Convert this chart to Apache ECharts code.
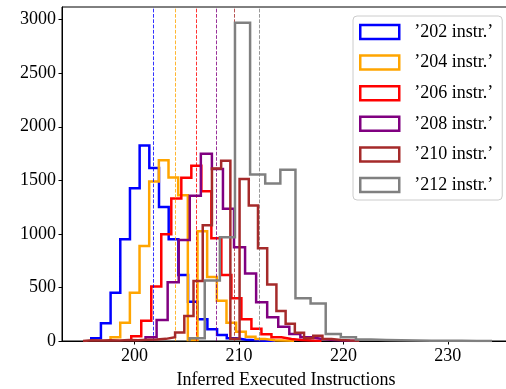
<!DOCTYPE html>
<html>
<head>
<meta charset="utf-8">
<script src="https://cdn.jsdelivr.net/npm/echarts@6/dist/echarts.min.js"></script>
<style>
  html, body { margin: 0; padding: 0; background: #fff; }
  #chart { width: 506px; height: 389px; }
</style>
</head>
<body>
<div id="chart"></div>
<script>
// ---- data ----
const seriesNames = ["’202 instr.’", "’204 instr.’", "’206 instr.’", "’208 instr.’", "’210 instr.’", "’212 instr.’"];
const seriesColors = ["#0000ff", "#ffa500", "#ff0000", "#800080", "#a52a2a", "#808080"];

// first bin edge and bin width for each histogram
const binStart = [195.85, 197.70, 199.68, 201.05, 195.06, 205.27];
const binWidth = [0.927, 0.925, 0.959, 1.059, 0.882, 1.448];

const counts202 = [25, 165, 451, 950, 1427, 1825, 1614, 1250, 950, 617, 367, 203, 109, 56, 25, 12, 6, 3, 2];
const counts204 = [35, 171, 451, 888, 1489, 1688, 1526, 1361, 10, 1024, 597, 375, 170, 87, 40, 18, 8, 4, 2];
const counts206 = [45, 188, 508, 997, 1330, 1523, 1636, 1398, 960, 617, 399, 203, 115, 63, 35, 19, 10, 5, 3];
const counts208 = [35, 196, 549, 944, 1355, 1748, 1605, 1234, 876, 630, 362, 221, 134, 65, 35, 19, 10, 5, 3];
const counts210 = [8, 4, 6, 5, 10, 8, 12, 15, 20, 35, 80, 234, 561, 1080, 1610, 1682, 20, 1512, 1265, 866, 528, 280, 162, 78, 25, 48, 18, 10, 5, 3];
const counts212 = [25, 564, 969, 2970, 1555, 1470, 1598, 400, 350, 65, 35, 15, 10, 6, 4, 3, 2, 2, 1, 1];
const allCounts = [counts202, counts204, counts206, counts208, counts210, counts212];

const means = [201.82, 203.90, 205.92, 207.83, 209.59, 211.92];

const xTicks = [200, 210, 220, 230];
const yTicks = [0, 500, 1000, 1500, 2000, 2500, 3000];
const xLabel = "Inferred Executed Instructions";

// ---- build step outlines ----
function stepPoints(start, width, vals) {
  const pts = [[start, 0]];
  for (let i = 0; i < vals.length; i++) {
    const a = start + i * width, b = start + (i + 1) * width;
    pts.push([a, vals[i]]);
    pts.push([b, vals[i]]);
  }
  pts.push([start + vals.length * width, 0]);
  return pts;
}

const FONT = "Liberation Serif";
const chart = echarts.init(document.getElementById('chart'), null, { renderer: 'canvas' });

const series = seriesNames.map((name, i) => ({
  name: name,
  type: 'line',
  data: stepPoints(binStart[i], binWidth[i], allCounts[i]),
  showSymbol: false,
  symbol: 'none',
  animation: false,
  z: 2 + i,
  lineStyle: { color: seriesColors[i], width: 2.5, join: 'miter', cap: 'butt' },
  itemStyle: { color: seriesColors[i] },
  markLine: {
    silent: true,
    symbol: 'none',
    animation: false,
    label: { show: false },
    emphasis: { disabled: true },
    lineStyle: { color: seriesColors[i], width: 1, type: [3.7, 1.6], opacity: 0.8 },
    data: [{ xAxis: means[i], lineStyle: { color: seriesColors[i] } }]
  }
}));

chart.setOption({
  animation: false,
  backgroundColor: '#ffffff',
  textStyle: { fontFamily: FONT },
  grid: {
    left: 62, top: 7, width: 448, height: 334,
    containLabel: false,
    outerBoundsMode: 'none',
    show: true, borderColor: '#000', borderWidth: 1, backgroundColor: 'transparent'
  },
  legend: {
    orient: 'vertical',
    left: 353, top: 16,
    padding: [7, 9, 6, 6],
    itemWidth: 39, itemHeight: 14, itemGap: 12.6,
    backgroundColor: 'rgba(255,255,255,0.85)',
    borderColor: '#cccccc', borderWidth: 1, borderRadius: 4,
    textStyle: { fontFamily: FONT, fontSize: 18, color: '#000', padding: [0, 0, 0, 10] },
    data: seriesNames.map((n, i) => ({
      name: n,
      icon: 'rect',
      itemStyle: { color: 'rgba(0,0,0,0)', borderColor: seriesColors[i], borderWidth: 2.5 }
    }))
  },
  xAxis: {
    type: 'value',
    min: 193.05, max: 235.95,
    name: xLabel,
    nameLocation: 'middle',
    nameGap: 30,
    nameTextStyle: { fontFamily: FONT, fontSize: 18, color: '#000' },
    axisLine: { show: true, onZero: false, lineStyle: { color: '#000', width: 1 } },
    axisTick: { show: true, inside: false, length: 3.5, lineStyle: { color: '#000' }, customValues: xTicks },
    axisLabel: { fontFamily: FONT, fontSize: 18, color: '#000', margin: 6, customValues: xTicks, formatter: v => String(v) },
    splitLine: { show: false }
  },
  yAxis: {
    type: 'value',
    min: 0, max: 3118,
    axisLine: { show: true, lineStyle: { color: '#000', width: 1 } },
    axisTick: { show: true, inside: false, length: 3.5, lineStyle: { color: '#000' }, customValues: yTicks },
    axisLabel: { fontFamily: FONT, fontSize: 18, color: '#000', margin: 6, customValues: yTicks, formatter: v => String(v) },
    splitLine: { show: false }
  },
  series: series
});
</script>
</body>
</html>
